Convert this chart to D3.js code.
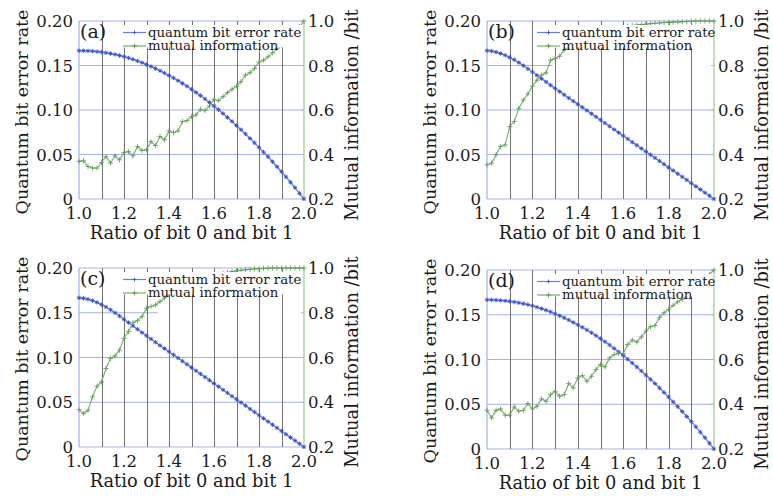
<!DOCTYPE html>
<html><head><meta charset="utf-8">
<script src="https://cdn.jsdelivr.net/npm/d3@7"></script>
<style>
body{margin:0;background:#fff}
svg{display:block}
text{font-family:"DejaVu Serif",serif;fill:#1a1a1a}
</style>
</head><body>
<svg id="chart" width="773" height="496"></svg>
<script>
// ---------- data ----------
const ratio = [1.00,1.02,1.04,1.06,1.08,1.10,1.12,1.14,1.16,1.18,1.20,1.22,1.24,1.26,1.28,1.30,1.32,1.34,1.36,1.38,1.40,1.42,1.44,1.46,1.48,1.50,1.52,1.54,1.56,1.58,1.60,1.62,1.64,1.66,1.68,1.70,1.72,1.74,1.76,1.78,1.80,1.82,1.84,1.86,1.88,1.90,1.92,1.94,1.96,1.98,2.00];

const qberAD = [.1667,.1666,.1664,.1661,.1656,.1650,.1643,.1634,.1624,.1613,
  .1600,.1585,.1569,.1551,.1532,.1511,.1489,.1466,.1441,.1415,
  .1388,.1360,.1330,.1299,.1267,.1233,.1198,.1162,.1124,.1085,
  .1045,.1003,.0961,.0917,.0872,.0826,.0779,.0731,.0681,.0631,
  .0580,.0527,.0474,.0419,.0363,.0306,.0248,.0188,.0127,.0064,0];

const qberBC = [.1667,.1662,.1651,.1635,.1615,.1591,.1564,.1533,.1499,.1463,
  .1427,.1390,.1353,.1316,.1279,.1243,.1207,.1171,.1135,.1100,
  .1065,.1030,.0995,.0959,.0924,.0888,.0852,.0817,.0781,.0746,
  .0710,.0675,.0639,.0604,.0568,.0533,.0497,.0462,.0426,.0391,
  .0355,.0320,.0284,.0249,.0213,.0178,.0142,.0107,.0071,.0036,0];

const miA = [.369,.372,.346,.339,.339,.364,.391,.361,.394,.376,
  .409,.413,.394,.436,.418,.421,.458,.440,.481,.466,
  .506,.499,.506,.548,.552,.570,.578,.603,.597,.618,
  .648,.642,.660,.678,.693,.707,.727,.757,.767,.787,
  .816,.824,.839,.857,.876,.890,.910,.930,.950,.975,1.0];

const miB = [.354,.361,.399,.436,.443,.525,.548,.607,.645,.672,
  .707,.734,.757,.767,.824,.831,.842,.869,.885,.900,
  .912,.923,.932,.940,.947,.953,.958,.963,.967,.971,
  .974,.977,.980,.982,.984,.986,.988,.990,.991,.993,
  .994,.995,.996,.997,.998,.999,1,1,1,1,1];

const miC = [.367,.349,.364,.424,.472,.491,.551,.596,.607,.633,
  .686,.716,.756,.765,.783,.820,.828,.835,.850,.866,
  .880,.893,.905,.916,.926,.935,.943,.950,.956,.962,
  .967,.972,.976,.980,.984,.987,.990,.992,.994,.996,
  .997,.998,.999,1,1,1,1,1,1,1,1];

const miD = [.373,.339,.373,.379,.351,.351,.388,.369,.373,.403,
  .379,.391,.424,.413,.443,.458,.436,.443,.493,.473,
  .518,.528,.503,.525,.555,.578,.567,.607,.622,.627,
  .627,.667,.687,.678,.701,.727,.746,.752,.787,.809,
  .824,.842,.857,.869,.887,.900,.920,.940,.960,.980,1.0];

const panelLabels = ["(a)","(b)","(c)","(d)"];
const seriesNames = ["quantum bit error rate","mutual information"];
const xTicks = [1.0,1.2,1.4,1.6,1.8,2.0];
const xTickLabels = ["1.0","1.2","1.4","1.6","1.8","2.0"];
const xGrid = [1.1,1.2,1.3,1.4,1.5,1.6,1.7,1.8,1.9];
const yLeftTicks = [0,0.05,0.10,0.15,0.20];
const yLeftLabels = ["0","0.05","0.10","0.15","0.20"];
const yRightTicks = [0.2,0.4,0.6,0.8,1.0];
const yRightLabels = ["0.2","0.4","0.6","0.8","1.0"];
const xTitle = "Ratio of bit 0 and bit 1";
const yLeftTitle = "Quantum bit error rate";
const yRightTitle = "Mutual information /bit";

// ---------- layout ----------
const layout = [
  {qber:qberAD, mi:miA, x0:79,  x1:304, y0:21,  y1:199, grid15End:null},
  {qber:qberBC, mi:miB, x0:487, x1:714, y0:21,  y1:199, grid15End:1.29},
  {qber:qberBC, mi:miC, x0:79,  x1:304, y0:268, y1:447, grid15End:1.35},
  {qber:qberAD, mi:miD, x0:487, x1:714, y0:270, y1:449, grid15End:null}
];

const svg = d3.select("#chart");
const BLUE_LINE = "#6b7fe0", BLUE_MARK = "#3550c8", BLUE_GRID = "#a3b0ee";
const GREEN_LINE = "#7aab6c", GREEN_MARK = "#5f9a52", GREEN_AXIS = "#9cc98f";
const GRAY_GRID = "#727272";

layout.forEach((p, i) => {
  const g = svg.append("g");
  const x = d3.scaleLinear().domain([1,2]).range([p.x0, p.x1]);
  const yL = d3.scaleLinear().domain([0,0.2]).range([p.y1, p.y0]);
  const yR = d3.scaleLinear().domain([0.2,1.0]).range([p.y1, p.y0]);

  // horizontal blue grid
  g.selectAll(".hg").data(yLeftTicks).enter().append("line")
    .attr("x1", x(1)).attr("x2", d => (Math.abs(d-0.15)<1e-9 && p.grid15End) ? x(p.grid15End) : x(2))
    .attr("y1", d => yL(d)).attr("y2", d => yL(d))
    .attr("stroke", BLUE_GRID).attr("stroke-width", 1);
  // vertical gray grid
  g.selectAll(".vg").data(xGrid).enter().append("line")
    .attr("x1", d => Math.round(x(d))+0.5).attr("x2", d => Math.round(x(d))+0.5)
    .attr("y1", yL(0.2)).attr("y2", yL(0))
    .attr("stroke", GRAY_GRID).attr("stroke-width", 1);
  // left axis line (blue) and right axis line (green)
  g.append("line").attr("x1", x(1)).attr("x2", x(1)).attr("y1", yL(0.2)).attr("y2", yL(0))
    .attr("stroke", BLUE_GRID).attr("stroke-width", 1.2);
  g.append("line").attr("x1", x(2)).attr("x2", x(2)).attr("y1", yL(0.2)).attr("y2", yL(0))
    .attr("stroke", GREEN_AXIS).attr("stroke-width", 1.2);
  g.selectAll(".rt").data(yRightTicks).enter().append("line")
    .attr("x1", x(2)-3).attr("x2", x(2)).attr("y1", d => yR(d)).attr("y2", d => yR(d))
    .attr("stroke", GREEN_AXIS).attr("stroke-width", 1);

  // QBER series
  const qPts = ratio.map((r, k) => [x(r), yL(p.qber[k])]);
  g.append("path").attr("d", d3.line()(qPts)).attr("fill","none")
    .attr("stroke", BLUE_LINE).attr("stroke-width", 1.3);
  qPts.forEach(([px, py]) => {
    const s = 2.2;
    g.append("path").attr("d",
      `M${px-s},${py}L${px+s},${py}M${px},${py-s}L${px},${py+s}M${px-s*0.7},${py-s*0.7}L${px+s*0.7},${py+s*0.7}M${px-s*0.7},${py+s*0.7}L${px+s*0.7},${py-s*0.7}`)
      .attr("stroke", BLUE_MARK).attr("stroke-width", 0.9);
  });

  // MI series
  const mPts = ratio.map((r, k) => [x(r), yR(p.mi[k])]);
  g.append("path").attr("d", d3.line()(mPts)).attr("fill","none")
    .attr("stroke", GREEN_LINE).attr("stroke-width", 1.1);
  mPts.forEach(([px, py]) => {
    const s = 2.6;
    g.append("path").attr("d", `M${px-s},${py}L${px+s},${py}M${px},${py-s}L${px},${py+s}`)
      .attr("stroke", GREEN_MARK).attr("stroke-width", 0.8);
  });

  // legend (white background hides lines behind it)
  const legX = (i % 2 === 0) ? x(1.2) - 1 : x(1.216) + 1;
  const row1 = p.y0 + 11.5, row2 = p.y0 + 25;
  const lg = svg.append("g");
  lg.append("rect").attr("x", legX - 4).attr("y", p.y0 + 4)
    .attr("width", x(2) - legX + 3).attr("height", 22.5)
    .attr("fill", "#fff");
  [row1, row2].forEach((ry, k) => {
    const col = k === 0 ? BLUE_LINE : GREEN_LINE;
    lg.append("line").attr("x1", legX).attr("x2", legX + 23).attr("y1", ry).attr("y2", ry)
      .attr("stroke", col).attr("stroke-width", 1.2);
    const mx = legX + 11.5, s = k === 0 ? 2 : 2.5;
    lg.append("path").attr("d", `M${mx-s},${ry}L${mx+s},${ry}M${mx},${ry-s}L${mx},${ry+s}`)
      .attr("stroke", k === 0 ? BLUE_MARK : GREEN_MARK).attr("stroke-width", 0.9);
    lg.append("text").attr("x", legX + 25).attr("y", ry + 4.3)
      .attr("font-size", 13.3).text(seriesNames[k]);
  });

  // panel label
  svg.append("text").attr("x", p.x0 + 1).attr("y", p.y0 + 17).attr("font-size", 19).text(panelLabels[i]);

  // tick labels
  svg.append("g").selectAll("text").data(xTicks).enter().append("text")
    .attr("x", d => x(d)).attr("y", p.y1 + 20).attr("text-anchor","middle")
    .attr("font-size", 16.5).text((d,k) => xTickLabels[k]);
  svg.append("g").selectAll("text").data(yLeftTicks).enter().append("text")
    .attr("x", p.x0 - 6).attr("y", d => yL(d) + 6).attr("text-anchor","end")
    .attr("font-size", 16.5).text((d,k) => yLeftLabels[k]);
  svg.append("g").selectAll("text").data(yRightTicks).enter().append("text")
    .attr("x", p.x1 + 4).attr("y", d => yR(d) + 6).attr("text-anchor","start")
    .attr("font-size", 16.5).text((d,k) => yRightLabels[k]);

  // axis titles
  svg.append("text").attr("x", (p.x0 + p.x1) / 2).attr("y", p.y1 + 40).attr("text-anchor","middle")
    .attr("font-size", 17.8).text(xTitle);
  svg.append("text").attr("transform", `translate(${p.x0 - 51},${p.y0 + 91}) rotate(-90)`)
    .attr("text-anchor","middle").attr("font-size", 17.5).text(yLeftTitle);
  svg.append("text").attr("transform", `translate(${p.x1 + 54},${p.y0 + 94}) rotate(-90)`)
    .attr("text-anchor","middle").attr("font-size", 17.8).text(yRightTitle);
});
</script>
</body></html>
